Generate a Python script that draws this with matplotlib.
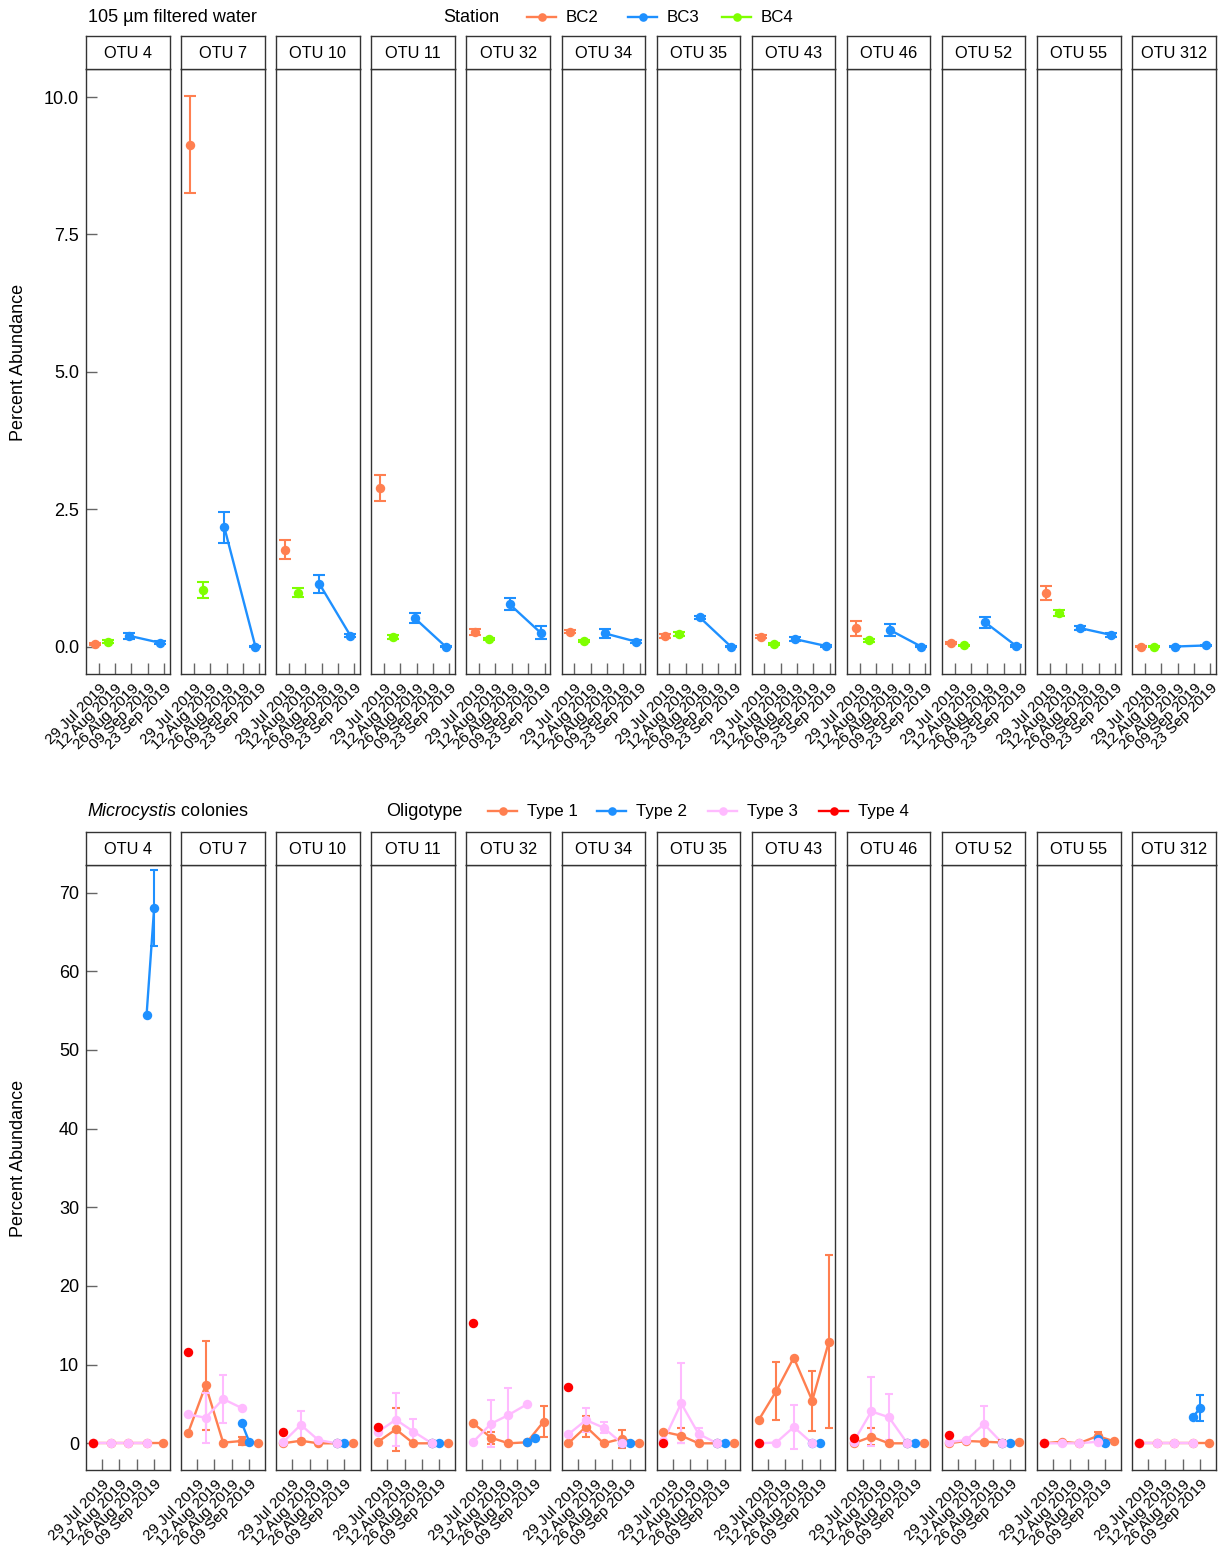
import numpy as np
import matplotlib
matplotlib.use("Agg")
import matplotlib.pyplot as plt
from matplotlib.lines import Line2D
from matplotlib.transforms import ScaledTranslation

plt.rcParams["font.family"] = ["Liberation Sans", "DejaVu Sans"]
plt.rcParams["mathtext.fontset"] = "custom"
plt.rcParams["mathtext.it"] = "Liberation Sans:italic"
plt.rcParams["mathtext.rm"] = "Liberation Sans"

# ---------------------------------------------------------------- data
otus = ["OTU 4", "OTU 7", "OTU 10", "OTU 11", "OTU 32", "OTU 34",
        "OTU 35", "OTU 43", "OTU 46", "OTU 52", "OTU 55", "OTU 312"]

# x axis: days after 29 Jul 2019
date_breaks = [0, 14, 28, 42, 56]
date_labels = ["29 Jul 2019", "12 Aug 2019", "26 Aug 2019", "09 Sep 2019", "23 Sep 2019"]

# 105 µm filtered water, by station (mean, ± error)
bc2_day = [-3.3]
bc4_day = [8.1]
bc3_day = [26.1, 52.7]
bc2_mean = [0.05, 9.13, 1.76, 2.89, 0.26, 0.27, 0.195, 0.177, 0.33, 0.06, 0.97, 0.0]
bc2_err = [0.02, 0.88, 0.175, 0.235, 0.05, 0.03, 0.04, 0.03, 0.135, 0.02, 0.13, 0.01]
bc4_mean = [0.09, 1.03, 0.98, 0.177, 0.13, 0.10, 0.23, 0.04, 0.11, 0.02, 0.61, 0.0]
bc4_err = [0.02, 0.145, 0.085, 0.04, 0.02, 0.02, 0.03, 0.02, 0.02, 0.01, 0.06, 0.01]
bc3_mean = [[0.195, 0.067], [2.17, 0.0], [1.14, 0.195], [0.52, 0.0], [0.77, 0.25],
            [0.24, 0.09], [0.53, 0.0], [0.135, 0.01], [0.30, 0.0], [0.44, 0.01],
            [0.335, 0.21], [0.0, 0.02]]
bc3_err = [[0.05, 0.03], [0.285, 0.01], [0.16, 0.03], [0.095, 0.01], [0.105, 0.12],
           [0.08, 0.02], [0.02, 0.01], [0.03, 0.01], [0.105, 0.01], [0.105, 0.01],
           [0.03, 0.04], [0.01, 0.01]]

# Microcystis colonies, by oligotype (mean, ± error; 0 error = single sample)
type1_day = [-7.4, 6.9, 21.0, 35.9, 49.3]
type2_day = [35.9, 42.0]
type3_day = [-7.4, 6.9, 21.0, 35.9]
type4_day = [-7.4]

type1_mean = [[0, 0, 0, 0, 0], [1.27, 7.37, 0.08, 0.3, 0.0], [0, 0.33, 0, 0, 0],
              [0.2, 1.78, 0, 0, 0], [2.54, 0.72, 0, 0.13, 2.75], [0, 2.11, 0, 0.6, 0],
              [1.47, 0.97, 0, 0, 0], [2.92, 6.65, 10.88, 5.42, 12.91], [0, 0.84, 0, 0, 0],
              [0, 0.3, 0.2, 0.1, 0.2], [0, 0.2, 0, 0.93, 0.25], [0, 0, 0, 0, 0]]
type1_err = [[0, 0, 0, 0, 0], [0, 5.65, 0, 0.5, 0], [0, 0, 0, 0, 0],
             [0, 2.7, 0, 0, 0], [0, 0.75, 0, 0, 2.0], [0, 1.37, 0, 1.15, 0],
             [0, 0.95, 0, 0, 0], [0, 3.68, 0, 3.8, 11.0], [0, 1.1, 0, 0, 0],
             [0, 0, 0, 0.3, 0], [0, 0, 0, 0.5, 0], [0, 0, 0, 0, 0]]
type2_mean = [[54.4, 68.0], [2.62, 0.2], [0, 0], [0, 0], [0.2, 0.63], [0, 0],
              [0, 0], [0, 0], [0, 0], [0, 0], [0.5, 0], [3.34, 4.45]]
type2_err = [[0, 4.85], [0, 0], [0, 0], [0, 0], [0, 0], [0, 0],
             [0, 0], [0, 0], [0, 0], [0, 0], [0, 0], [0, 1.65]]
type3_mean = [[0, 0, 0, 0], [3.68, 3.25, 5.63, 4.49], [0.13, 2.35, 0.42, 0],
              [1.47, 3.0, 1.5, 0], [0.2, 2.48, 3.6, 4.96], [1.14, 2.96, 1.98, 0],
              [0.3, 5.08, 1.18, 0], [0, 0.1, 2.07, 0], [0.2, 4.05, 3.32, 0],
              [0.15, 0.42, 2.45, 0], [0, 0, 0, 0.2], [0, 0, 0, 0]]
type3_err = [[0, 0, 0, 0], [0, 3.2, 3.03, 0], [0, 1.78, 0, 0],
             [0, 3.4, 1.55, 0], [0, 3.0, 3.4, 0], [0, 1.55, 0.7, 0],
             [0, 5.1, 0.8, 0], [0, 0, 2.75, 0], [0, 4.35, 2.9, 0],
             [0, 0, 2.3, 0], [0, 0, 0, 0], [0, 0, 0, 0]]
type4_mean = [0, 11.64, 1.47, 2.11, 15.32, 7.19, 0, 0, 0.71, 1.05, 0, 0]

station_names = ["BC2", "BC3", "BC4"]
station_colors = ["#FF7F50", "#1E90FF", "#7FFF00"]
type_names = ["Type 1", "Type 2", "Type 3", "Type 4"]
type_colors = ["#FF7F50", "#1E90FF", "#FFBBFF", "#FF0000"]

# ---------------------------------------------------------------- layout
W, H = 1225, 1553
fig = plt.figure(figsize=(W / 100, H / 100), dpi=100)

PANEL_X0, PANEL_STEP, PANEL_W = 86, 95.1, 83.5
EDGE = "#333333"


def draw_series(ax, days, means, errs, color, order, capsize, connect=True):
    days = np.asarray(days, float)
    means = np.asarray(means, float)
    errs = np.asarray(errs, float)
    if connect and len(days) > 1:
        ax.plot(days, means, color=color, lw=1.7, zorder=2 + order * 0.01,
                solid_capstyle="butt")
    mask = errs > 0
    if mask.any():
        ax.errorbar(days[mask], means[mask], yerr=errs[mask], fmt="none",
                    ecolor=color, elinewidth=1.5, capsize=capsize, capthick=1.5,
                    zorder=3 + order * 0.01)
    ax.plot(days, means, "o", color=color, ms=6.8, mec="none",
            zorder=4 + order * 0.01)


def make_row(y_strip, y_top, y_bot, xlim, ylim, yticks, yticklabels, n_dates):
    axes = []
    for i, name in enumerate(otus):
        left = (PANEL_X0 + i * PANEL_STEP) / W
        ax = fig.add_axes([left, 1 - y_bot / H, PANEL_W / W, (y_bot - y_top) / H])
        sax = fig.add_axes([left, 1 - y_top / H, PANEL_W / W, (y_top - y_strip) / H])
        sax.set_xticks([])
        sax.set_yticks([])
        for sp in sax.spines.values():
            sp.set_color(EDGE)
            sp.set_linewidth(1.0)
        sax.text(0.5, 0.47, name, ha="center", va="center", fontsize=11.8,
                 transform=sax.transAxes)

        ax.set_xlim(*xlim)
        ax.set_ylim(*ylim)
        for sp in ax.spines.values():
            sp.set_color(EDGE)
            sp.set_linewidth(1.0)
        ax.set_xticks(date_breaks[:n_dates])
        ax.set_xticklabels(date_labels[:n_dates], rotation=45, ha="right",
                           va="top", rotation_mode="anchor", fontsize=11)
        shift = ScaledTranslation(4 / 100, 0, fig.dpi_scale_trans)
        for lab in ax.get_xticklabels():
            lab.set_transform(lab.get_transform() + shift)
        ax.tick_params(axis="x", direction="in", length=8, width=1.0,
                       color="#666666", pad=5)
        if i == 0:
            ax.set_yticks(yticks)
            ax.set_yticklabels(yticklabels, fontsize=13)
            ax.tick_params(axis="y", direction="in", length=8, width=1.0,
                           color="#666666", pad=5)
        else:
            ax.set_yticks([])
        axes.append(ax)
    return axes


# ---------------------------------------------------------------- top row
top_axes = make_row(35.7, 69, 674, (-10.9, 60.6), (-0.5, 10.51),
                    [0, 2.5, 5.0, 7.5, 10.0], ["0.0", "2.5", "5.0", "7.5", "10.0"], 5)
for i, ax in enumerate(top_axes):
    draw_series(ax, bc2_day, [bc2_mean[i]], [bc2_err[i]], station_colors[0], 0, 4.2)
    draw_series(ax, bc3_day, bc3_mean[i], bc3_err[i], station_colors[1], 1, 4.2)
    draw_series(ax, bc4_day, [bc4_mean[i]], [bc4_err[i]], station_colors[2], 2, 4.2)

# ---------------------------------------------------------------- bottom row
bot_axes = make_row(832.3, 865, 1470.3, (-12.9, 54.4), (-3.43, 73.5),
                    list(range(0, 80, 10)), [str(v) for v in range(0, 80, 10)], 4)
for i, ax in enumerate(bot_axes):
    draw_series(ax, type1_day, type1_mean[i], type1_err[i], type_colors[0], 0, 2.9)
    draw_series(ax, type2_day, type2_mean[i], type2_err[i], type_colors[1], 1, 2.9)
    draw_series(ax, type3_day, type3_mean[i], type3_err[i], type_colors[2], 2, 2.9)
    draw_series(ax, type4_day, [type4_mean[i]], [0], type_colors[3], 3, 2.9)

# ---------------------------------------------------------------- labels
for yc in (362, 1158):
    fig.text(19 / W, 1 - yc / H, "Percent Abundance", rotation=90,
             ha="center", va="center", fontsize=13)

fig.text(88 / W, 1 - 17 / H, "105 µm filtered water", ha="left", va="center",
         fontsize=13)
fig.text(87 / W, 1 - 811 / H, r"$\it{Microcystis}$ colonies", ha="left",
         va="center", fontsize=13)


def draw_legend(title, title_x, y, key_starts, names, colors):
    yf = 1 - y / H
    fig.text(title_x / W, yf, title, ha="left", va="center", fontsize=13)
    for x0, name, col in zip(key_starts, names, colors):
        fig.add_artist(Line2D([x0 / W, (x0 + 29) / W], [yf, yf], color=col,
                              lw=1.7, transform=fig.transFigure))
        fig.add_artist(Line2D([(x0 + 14.5) / W], [yf], marker="o", ms=6.2,
                              color=col, mec="none", transform=fig.transFigure))
        fig.text((x0 + 39) / W, yf, name, ha="left", va="center", fontsize=12.2)


draw_legend("Station", 443, 17, [527, 628, 722], station_names, station_colors)
draw_legend("Oligotype", 386, 811, [488, 597, 708, 819], type_names, type_colors)

fig.savefig("out.png", dpi=100, facecolor="white")
